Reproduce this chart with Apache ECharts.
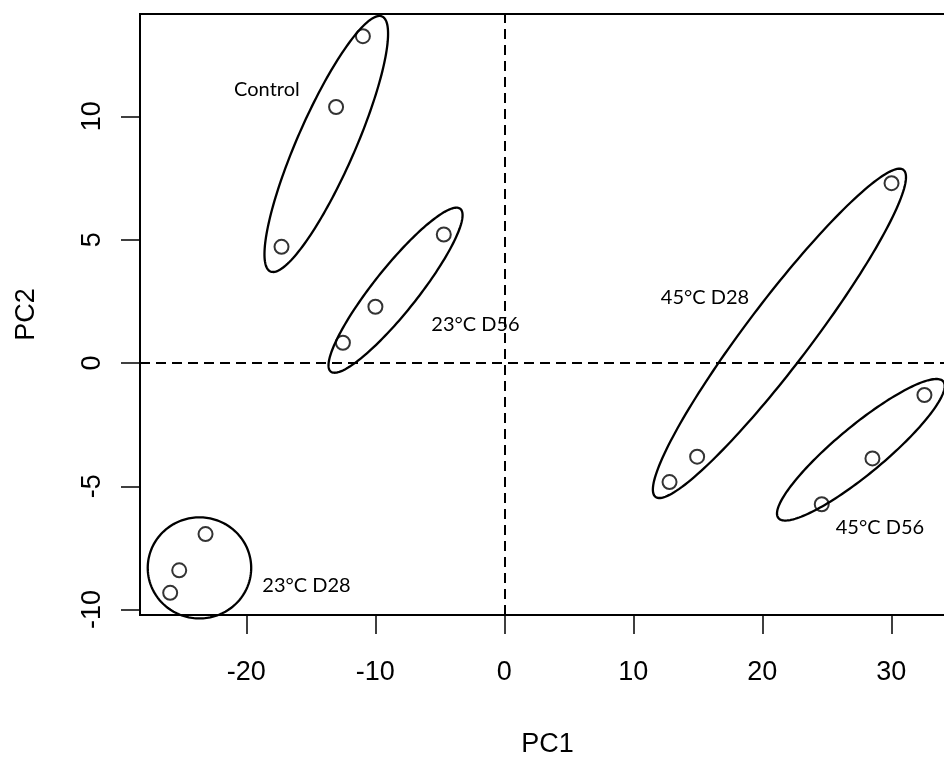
<!DOCTYPE html>
<html>
<head>
<meta charset="utf-8">
<script src="https://cdn.jsdelivr.net/npm/echarts@6/dist/echarts.min.js"></script>
<style>
  html, body { margin: 0; padding: 0; background: #fff; }
  #chart { width: 944px; height: 759px; }
</style>
</head>
<body>
<div id="chart"></div>
<script>
// PCA scores (PC1, PC2) for each sample, grouped by treatment
const groups = ['Control', '23°C D56', '23°C D28', '45°C D28', '45°C D56'];
const pc1 = [-10.96, -13.04, -17.27,  -4.69, -9.99, -12.51,  -23.16, -25.20, -25.90,  30.02, 14.95, 12.81,  32.57, 28.54, 24.61];
const pc2 = [ 13.25,  10.38,   4.71,   5.21,  2.28,   0.82,   -6.94,  -8.41,  -9.32,   7.29, -3.80, -4.83,  -1.30, -3.87, -5.73];

// Group ellipses: centre (x, y) and two conjugate semi-axis vectors (ux, uy), (vx, vy) in PC units
const ellCx = [-13.80, -8.43, -23.63, 21.33, 27.64];
const ellCy = [  8.88,  2.95,  -8.31,  1.20, -3.52];
const ellUx = [  4.33,  5.02,   4.01,  9.61,  6.39];
const ellUy = [  5.17,  3.30,   0.00,  6.63,  2.77];
const ellVx = [ -2.05, -1.34,   0.00, -1.98, -1.19];
const ellVy = [  0.47,  0.56,   2.05,  0.79,  0.75];

// Group label anchors (text centre)
const labelX = [-18.40, -2.23, -15.33, 15.56, 29.12];
const labelY = [ 11.07,  1.56,  -9.03,  2.66, -6.67];

// Axis ticks
const xTicks = [-20, -10, 0, 10, 20, 30];
const yTicks = [-10, -5, 0, 5, 10];

const points = pc1.map((x, i) => [x, pc2[i]]);
const ellipses = ellCx.map((cx, i) => [cx, ellCy[i], ellUx[i], ellUy[i], ellVx[i], ellVy[i]]);
const labels = labelX.map((x, i) => [x, labelY[i]]);

const axisFont = "'Liberation Sans', Arial, sans-serif";
const noteFont = "Lato, 'Open Sans', sans-serif";

const chart = echarts.init(document.getElementById('chart'), null, { renderer: 'canvas' });
chart.setOption({
  animation: false,
  backgroundColor: '#fff',
  grid: {
    left: 140, top: 14, width: 815, height: 601,
    outerBoundsMode: 'none',
    containLabel: false,
    show: true, borderColor: '#000', borderWidth: 2, backgroundColor: 'transparent'
  },
  xAxis: {
    type: 'value', min: -28.24, max: 34.94,
    name: 'PC1', nameLocation: 'middle', nameGap: 116,
    nameTextStyle: { fontFamily: axisFont, fontSize: 27, color: '#000', verticalAlign: 'top' },
    axisLine: { show: false, onZero: false },
    splitLine: { show: false },
    axisTick: { show: true, inside: false, length: 19, customValues: xTicks, lineStyle: { color: '#000', width: 1.5 } },
    axisLabel: { customValues: xTicks, margin: 44, fontFamily: axisFont, fontSize: 27, color: '#000', verticalAlign: 'top' }
  },
  yAxis: {
    type: 'value', min: -10.22, max: 14.15,
    name: 'PC2', nameLocation: 'middle', nameGap: 100,
    nameTextStyle: { fontFamily: axisFont, fontSize: 27, color: '#000' },
    axisLine: { show: false, onZero: false },
    splitLine: { show: false },
    axisTick: { show: true, inside: false, length: 19, customValues: yTicks, lineStyle: { color: '#000', width: 1.5 } },
    axisLabel: { customValues: yTicks, rotate: 90, margin: 34, fontFamily: axisFont, fontSize: 27, color: '#000' }
  },
  series: [
    {
      type: 'custom',
      coordinateSystem: 'cartesian2d',
      data: ellipses,
      encode: { x: 0, y: 1 },
      clip: false,
      silent: true,
      renderItem: function (params, api) {
        const cx = api.value(0), cy = api.value(1);
        const ux = api.value(2), uy = api.value(3);
        const vx = api.value(4), vy = api.value(5);
        const pts = [];
        const n = 180;
        for (let k = 0; k < n; k++) {
          const t = k / n * Math.PI * 2;
          const c = Math.cos(t), s = Math.sin(t);
          pts.push(api.coord([cx + ux * c + vx * s, cy + uy * c + vy * s]));
        }
        return {
          type: 'polygon',
          shape: { points: pts },
          style: { fill: 'none', stroke: '#000', lineWidth: 2.3 }
        };
      }
    },
    {
      type: 'scatter',
      data: points,
      symbol: 'circle',
      symbolSize: 14,
      itemStyle: { color: 'rgba(0,0,0,0)', borderColor: '#000', borderWidth: 2 },
      silent: true,
      markLine: {
        silent: true,
        symbol: 'none',
        label: { show: false },
        lineStyle: { color: '#000', width: 2, type: [10, 6] },
        data: [{ xAxis: 0 }, { yAxis: 0 }]
      }
    },
    {
      type: 'custom',
      coordinateSystem: 'cartesian2d',
      data: labels,
      encode: { x: 0, y: 1 },
      clip: false,
      silent: true,
      renderItem: function (params, api) {
        const p = api.coord([api.value(0), api.value(1)]);
        return {
          type: 'text',
          x: p[0], y: p[1],
          style: {
            text: groups[params.dataIndex],
            fill: '#000',
            font: '20px ' + noteFont,
            textAlign: 'center',
            textVerticalAlign: 'middle'
          }
        };
      }
    }
  ]
});
</script>
</body>
</html>
